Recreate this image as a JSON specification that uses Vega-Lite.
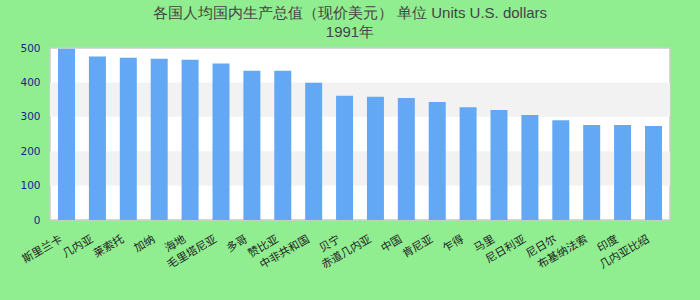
{
  "$schema": "https://vega.github.io/schema/vega-lite/v6.json",
  "width": 620,
  "height": 172,
  "autosize": "none",
  "padding": {"left": 50, "top": 48, "right": 30, "bottom": 80},
  "background": "#90ee90",
  "title": {
    "text": ["各国人均国内生产总值（现价美元） 单位 Units U.S. dollars", "1991年"],
    "fontSize": 15,
    "font": "Liberation Sans",
    "fontWeight": "normal",
    "color": "#444444",
    "anchor": "middle",
    "offset": 3,
    "lineHeight": 19,
    "dx": -10
  },
  "config": {"view": {"stroke": "#cccccc", "strokeWidth": 1.5, "fill": "white"}},
  "datasets": {
    "bands": [{"lo": 100, "hi": 200}, {"lo": 300, "hi": 400}],
    "bars": [
      {"country": "斯里兰卡", "value": 498},
      {"country": "几内亚", "value": 475},
      {"country": "莱索托", "value": 472},
      {"country": "加纳", "value": 469},
      {"country": "海地", "value": 466},
      {"country": "毛里塔尼亚", "value": 455},
      {"country": "多哥", "value": 434},
      {"country": "赞比亚", "value": 434},
      {"country": "中非共和国", "value": 399},
      {"country": "贝宁", "value": 361},
      {"country": "赤道几内亚", "value": 358},
      {"country": "中国", "value": 355},
      {"country": "肯尼亚", "value": 343},
      {"country": "乍得", "value": 328},
      {"country": "马里", "value": 320},
      {"country": "尼日利亚", "value": 305},
      {"country": "尼日尔", "value": 290},
      {"country": "布基纳法索", "value": 276},
      {"country": "印度", "value": 276},
      {"country": "几内亚比绍", "value": 273}
    ]
  },
  "layer": [
    {
      "data": {"name": "bands"},
      "mark": {"type": "rect", "color": "#f2f2f2"},
      "encoding": {
        "y": {"field": "lo", "type": "quantitative", "scale": {"domain": [0, 500]},
              "axis": {"title": null, "values": [0, 100, 200, 300, 400, 500], "grid": false, "ticks": false, "domain": false, "labelColor": "#1c1c8c", "labelFont": "DejaVu Sans", "labelFontSize": 10.5, "labelPadding": 10}},
        "y2": {"field": "hi"}
      }
    },
    {
      "data": {"name": "bars"},
      "mark": {"type": "bar", "color": "#62a8f5"},
      "encoding": {
        "x": {"field": "country", "type": "nominal", "sort": null,
              "scale": {"paddingInner": 0.45, "paddingOuter": 0.26},
              "axis": {"title": null, "labelAngle": -30, "labelAlign": "right", "labelBaseline": "top", "labelFont": "Noto Sans CJK SC", "labelFontSize": 11, "labelColor": "#222222", "ticks": false, "domain": false, "labelPadding": 13, "labelOffset": -8}},
        "y": {"field": "value", "type": "quantitative", "scale": {"domain": [0, 500]},
              "axis": {"title": null, "values": [0, 100, 200, 300, 400, 500], "grid": false, "ticks": false, "domain": false, "labelColor": "#1c1c8c", "labelFont": "DejaVu Sans", "labelFontSize": 10.5, "labelPadding": 10}}
      }
    }
  ]
}
